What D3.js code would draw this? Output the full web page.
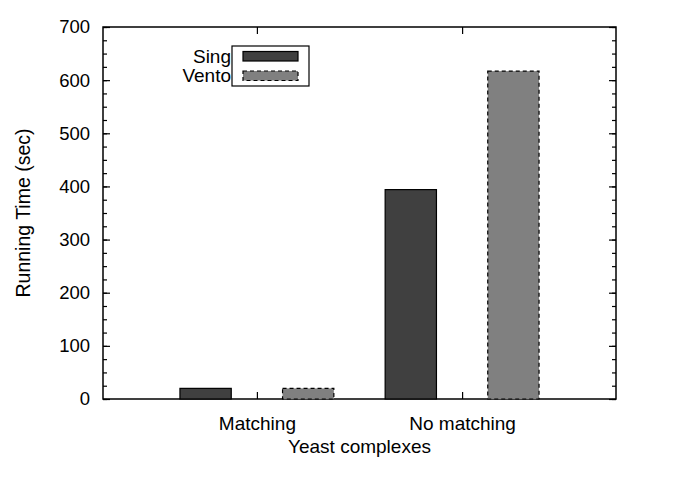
<!DOCTYPE html>
<html lang="en">
<head>
  <meta charset="UTF-8" />
  <title>Running time on yeast complexes</title>
  <style>
    html, body { margin: 0; background: #fff; }
    body { font-family: "Liberation Sans", Arial, sans-serif; }
    .axis path { stroke: #000; stroke-width: 1.5; }
    .axis line { stroke: #000; stroke-width: 1.2; }
    .axis text { font-size: 18.5px; fill: #000; }
  </style>
</head>
<body>
  <svg id="chart" width="694" height="479"></svg>

  <script src="https://cdn.jsdelivr.net/npm/d3@7"></script>
  <script>
    // data
    const categories = ["Matching", "No matching"];
    const seriesNames = ["Sing", "Vento"];
    const singValues = [20, 394];
    const ventoValues = [20, 617];
    const yTicks = [0, 100, 200, 300, 400, 500, 600, 700];
    const yMinorTicks = d3.range(0, 701, 25);

    const svg = d3.select("#chart"),
          margin = {top: 27, right: 78, bottom: 80, left: 103},
          width = +svg.attr("width") - margin.left - margin.right,
          height = +svg.attr("height") - margin.top - margin.bottom;

    const g = svg.append("g")
      .attr("transform", `translate(${margin.left},${margin.top})`);

    // x is a numeric position: categories sit at 0 and 1
    const x = d3.scaleLinear().domain([-0.75, 1.75]).range([0, width]);
    const y = d3.scaleLinear().domain([0, 700]).range([height, 0]);
    const barW = 0.25;

    const fills = ["#404040", "#808080"];
    const rows = categories.map((c, i) => ({cat: c, i, values: [singValues[i], ventoValues[i]]}));

    // frame
    g.append("rect")
      .attr("width", width).attr("height", height)
      .attr("fill", "none").attr("stroke", "#000").attr("stroke-width", 1.5);

    // bars
    rows.forEach(r => {
      r.values.forEach((v, s) => {
        const cx = r.i + (s === 0 ? -0.25 : 0.25);
        g.append("rect")
          .attr("x", x(cx - barW / 2))
          .attr("y", y(v))
          .attr("width", x(barW) - x(0))
          .attr("height", y(0) - y(v))
          .attr("fill", fills[s])
          .attr("stroke", "#000")
          .attr("stroke-width", 1.2)
          .attr("stroke-dasharray", s === 1 ? "4,3" : null);
      });
    });

    // y axes: minor ticks then major with labels
    g.append("g").attr("class", "axis")
      .call(d3.axisLeft(y).tickValues(yMinorTicks).tickSize(-4).tickFormat(""))
      .call(a => a.select(".domain").remove());
    g.append("g").attr("class", "axis")
      .call(d3.axisLeft(y).tickValues(yTicks).tickSize(-7).tickPadding(13))
      .call(a => a.select(".domain").remove());
    g.append("g").attr("class", "axis")
      .attr("transform", `translate(${width},0)`)
      .call(d3.axisRight(y).tickValues(yMinorTicks).tickSize(-4).tickFormat(""))
      .call(a => a.select(".domain").remove());
    g.append("g").attr("class", "axis")
      .attr("transform", `translate(${width},0)`)
      .call(d3.axisRight(y).tickValues(yTicks).tickSize(-7).tickFormat(""))
      .call(a => a.select(".domain").remove());

    // x axis (bottom + mirrored top)
    g.append("g").attr("class", "axis")
      .attr("transform", `translate(0,${height})`)
      .call(d3.axisBottom(x).tickValues([0, 1]).tickSize(-7).tickPadding(18)
        .tickFormat(d => categories[d]))
      .call(a => a.select(".domain").remove())
      .selectAll("text").style("font-size", "19px");
    g.append("g").attr("class", "axis")
      .call(d3.axisTop(x).tickValues([0, 1]).tickSize(-7).tickFormat(""))
      .call(a => a.select(".domain").remove());

    // axis titles
    svg.append("text")
      .attr("x", margin.left + width / 2)
      .attr("y", 453)
      .attr("text-anchor", "middle")
      .style("font-size", "19px")
      .text("Yeast complexes");

    svg.append("text")
      .attr("transform", `translate(30,${margin.top + height / 2}) rotate(-90)`)
      .attr("text-anchor", "middle")
      .style("font-size", "19.5px")
      .text("Running Time (sec)");

    // legend
    const legend = svg.append("g");
    legend.append("rect")
      .attr("x", 232).attr("y", 46)
      .attr("width", 77).attr("height", 40)
      .attr("fill", "#fff").attr("stroke", "#000").attr("stroke-width", 1.2);

    seriesNames.forEach((name, i) => {
      legend.append("rect")
        .attr("x", 243).attr("y", 51.5 + i * 19.5)
        .attr("width", 55).attr("height", 9.5)
        .attr("fill", fills[i])
        .attr("stroke", "#000").attr("stroke-width", 1.2)
        .attr("stroke-dasharray", i === 1 ? "4,3" : null);
      legend.append("text")
        .attr("x", 231).attr("y", 62.5 + i * 19.5)
        .attr("text-anchor", "end")
        .style("font-size", "19px")
        .text(name);
    });
  </script>
</body>
</html>
